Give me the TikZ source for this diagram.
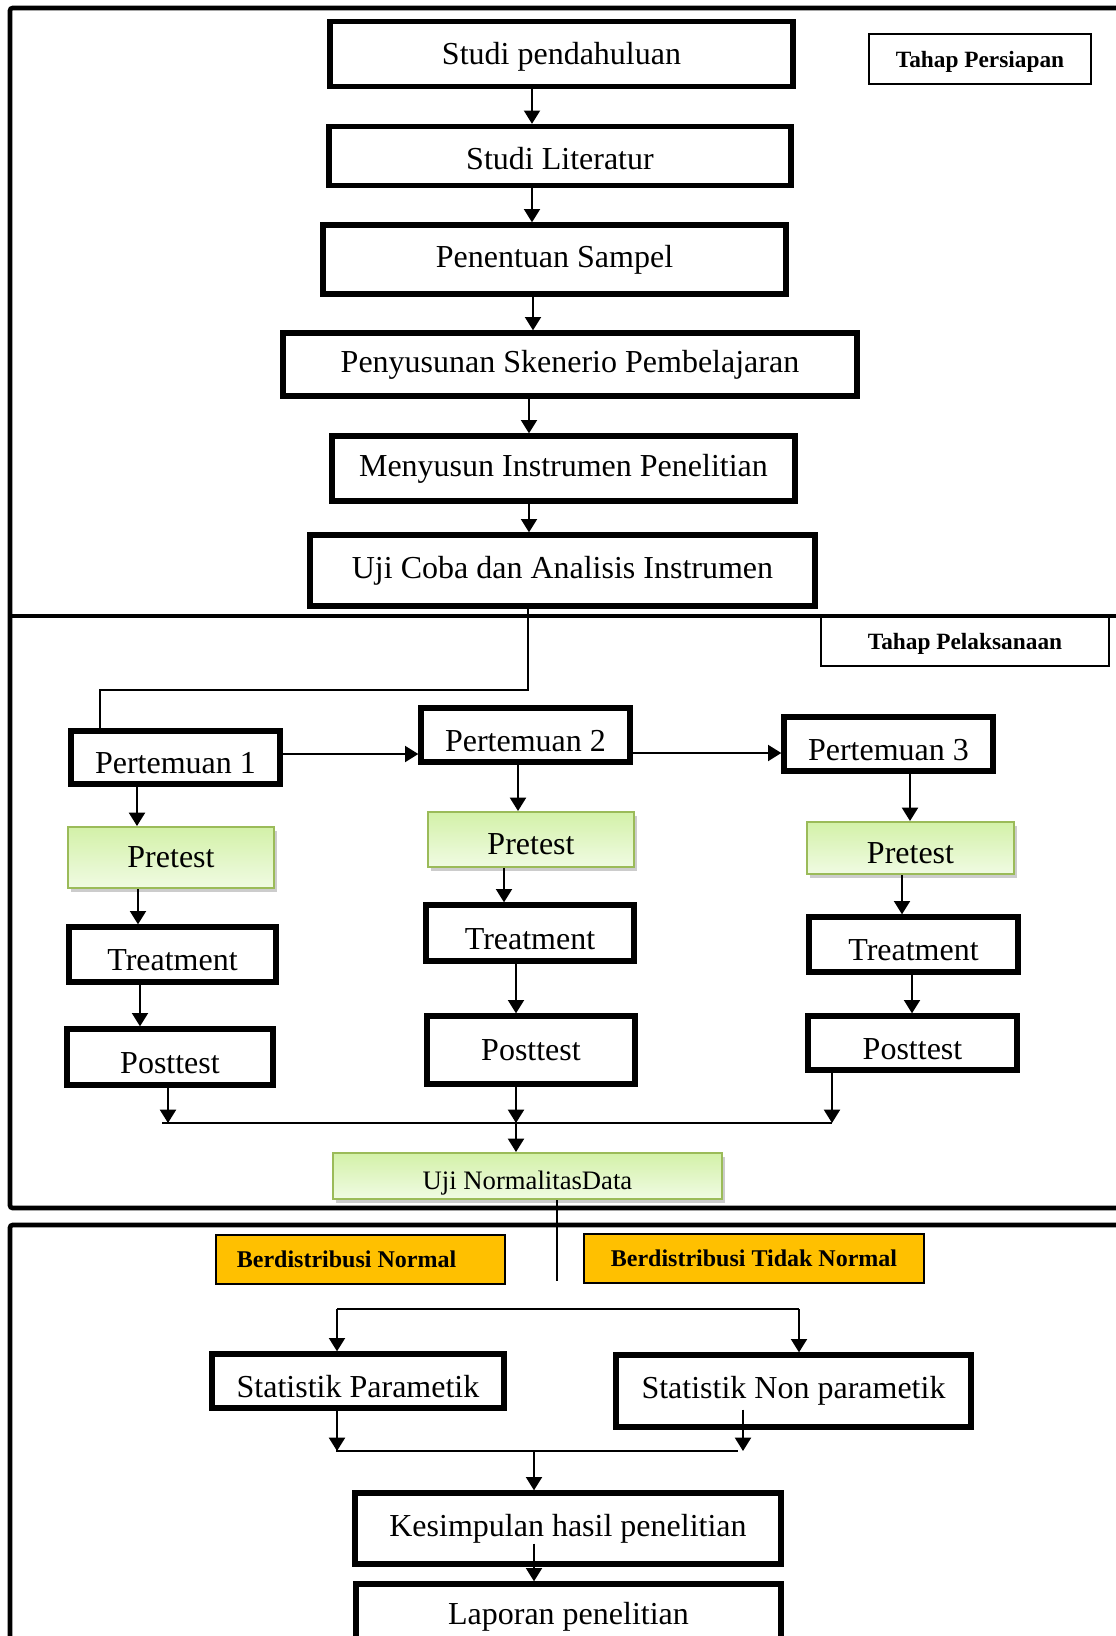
\documentclass[tikz,border=0pt]{standalone}
\usepackage{fontspec}
\setmainfont{Liberation Serif}
\usetikzlibrary{arrows.meta,shadows,calc}

\definecolor{grtop}{HTML}{D3F1A8}
\definecolor{grbot}{HTML}{F0FBE3}
\definecolor{grline}{HTML}{9BBB59}
\definecolor{oranj}{HTML}{FFC000}

\begin{document}
\begin{tikzpicture}[x=0.75pt,y=-0.75pt,
    sz/.style 2 args={minimum width=#1*0.75pt,minimum height=#2*0.75pt},
    box/.style={draw,line width=4pt,inner sep=0pt,font=\fontsize{24}{28}\selectfont},
    greenbox/.style={draw=grline,line width=1.5pt,top color=grtop,bottom color=grbot,
      drop shadow={opacity=0.4,shadow xshift=2pt,shadow yshift=-3pt},
      inner sep=0pt,font=\fontsize{24}{28}\selectfont},
    low/.style={text height=#1,text depth=0pt},
    low/.default=24pt,
    tahap/.style={draw,line width=0.8pt,inner sep=0pt,font=\fontsize{17.5}{20}\selectfont\bfseries},
    dist/.style={draw,fill=oranj,line width=0.8pt,inner sep=0pt,font=\fontsize{18}{20}\selectfont\bfseries},
    arr/.style={line width=1.5pt,-{Triangle[length=10pt,width=12pt]}},
    ln/.style={line width=1.5pt},
    frame/.style={line width=3.5pt,rounded corners=2pt}]
  \useasboundingbox (0,0) rectangle (1116,1636);

  % bingkai tahap
  \draw[frame] (1116,8) -- (10,8) -- (10,1208) -- (1116,1208);
  \draw[line width=3.5pt] (10,616) -- (1116,616);
  \draw[frame] (10,1640) -- (10,1225) -- (1116,1225);

  % tahap persiapan
  \node[tahap,sz={222}{50},low=12.5pt] (tp) at (980,59) {Tahap Persiapan};
  \node[box,sz={463}{65},low=15.5pt] (s1) at (561.5,54) {Studi pendahuluan};
  \node[box,sz={462}{59},low=20.8pt] (s2) at (560,156) {Studi Literatur};
  \node[box,sz={463}{69}] (s3) at (554.5,259.5) {Penentuan Sampel};
  \node[box,sz={574}{63}] (s4) at (570,364.5) {Penyusunan Skenerio Pembelajaran};
  \node[box,sz={463}{65}] (s5) at (563.5,468.5) {Menyusun Instrumen Penelitian};
  \node[box,sz={505}{71}] (s6) at (562.5,570.5) {Uji Coba dan Analisis Instrumen};

  \draw[arr] (s1.south -| 532,0) -- (s2.north -| 532,0);
  \draw[arr] (s2.south -| 532,0) -- (s3.north -| 532,0);
  \draw[arr] (s3.south -| 533,0) -- (s4.north -| 533,0);
  \draw[arr] (s4.south -| 529,0) -- (s5.north -| 529,0);
  \draw[arr] (s5.south -| 529,0) -- (s6.north -| 529,0);

  % tahap pelaksanaan
  \node[tahap,sz={288}{50},low=12.5pt] (tl) at (965,641) {Tahap Pelaksanaan};
  \node[box,sz={209}{53},low] (p1) at (175.5,757.5) {Pertemuan 1};
  \node[box,sz={209}{54},low] (p2) at (525.5,735) {Pertemuan 2};
  \node[box,sz={209}{54},low] (p3) at (888.5,744) {Pertemuan 3};
  \node[greenbox,sz={206}{61}] (pre1) at (171,857.5) {Pretest};
  \node[greenbox,sz={206}{55},low=22.5pt] (pre2) at (531,839.5) {Pretest};
  \node[greenbox,sz={207}{52},low=22.5pt] (pre3) at (910.5,848) {Pretest};
  \node[box,sz={207}{55},low] (tr1) at (172.5,954.5) {Treatment};
  \node[box,sz={208}{56},low] (tr2) at (530,933) {Treatment};
  \node[box,sz={209}{55},low] (tr3) at (913.5,944.5) {Treatment};
  \node[box,sz={206}{56},low] (po1) at (170,1057) {Posttest};
  \node[box,sz={208}{68}] (po2) at (531,1050) {Posttest};
  \node[box,sz={209}{54},low] (po3) at (912.5,1043) {Posttest};
  \node[greenbox,sz={389}{46},low=20pt,font=\fontsize{20}{24}\selectfont] (un) at (527.5,1176) {Uji NormalitasData};

  \draw[ln] (s6.south -| 528,0) -- (528,690) -- (100,690) -- (p1.north -| 100,0);
  \draw[arr] (p1.east |- 0,754) -- (p2.west |- 0,754);
  \draw[arr] (p2.east |- 0,753) -- (p3.west |- 0,753);

  \draw[arr] (p1.south -| 137,0) -- (pre1.north -| 137,0);
  \draw[arr] (pre1.south -| 138,0) -- (tr1.north -| 138,0);
  \draw[arr] (tr1.south -| 140,0) -- (po1.north -| 140,0);
  \draw[arr] (p2.south -| 518,0) -- (pre2.north -| 518,0);
  \draw[arr] (pre2.south -| 504,0) -- (tr2.north -| 504,0);
  \draw[arr] (tr2.south -| 516,0) -- (po2.north -| 516,0);
  \draw[arr] (p3.south -| 910,0) -- (pre3.north -| 910,0);
  \draw[arr] (pre3.south -| 902,0) -- (tr3.north -| 902,0);
  \draw[arr] (tr3.south -| 912,0) -- (po3.north -| 912,0);

  \coordinate (kiri) at (162,1123);
  \coordinate (tengah) at (516,1123);
  \coordinate (kanan) at (832,1123);
  \draw[ln] (kiri) -- (kanan);
  \draw[arr] (po1.south -| 168,0) -- (kiri -| 168,0);
  \draw[arr] (po2.south -| 516,0) -- (tengah);
  \draw[arr] (po3.south -| 832,0) -- (kanan);
  \draw[arr] (tengah) -- (un.north -| 516,0);

  % tahap analisis
  \coordinate (pisah) at (557,1281);
  \draw[ln] (un.south -| 557,0) -- (pisah);
  \node[dist,sz={289}{49}] (bn) at (360.5,1259.5) {Berdistribusi Normal\hspace*{21pt}};
  \node[dist,sz={340}{49}] (bt) at (754,1258.5) {Berdistribusi Tidak Normal};
  \node[box,sz={292}{54},low] (sp) at (358,1381) {Statistik Parametik};
  \node[box,sz={355}{72}] (snp) at (793.5,1391) {Statistik Non parametik};
  \node[box,sz={426}{71}] (ks) at (568,1528.5) {Kesimpulan hasil penelitian};
  \node[box,sz={425}{66}] (lp) at (568.5,1617) {Laporan penelitian};

  \coordinate (cabang1) at (337,1309);
  \coordinate (cabang2) at (799,1309);
  \draw[ln] (cabang1) -- (cabang2);
  \draw[arr] (cabang1) -- (sp.north -| cabang1);
  \draw[arr] (cabang2) -- (snp.north -| cabang2);

  \coordinate (gabung1) at (336,1451);
  \coordinate (gabung2) at (738,1451);
  \draw[ln] (gabung1) -- (gabung2);
  \draw[arr] (sp.south -| 337,0) -- (337,1451);
  \draw[arr] ($(snp.south -| 743,0)+(0,-20)$) -- (743,1451);
  \draw[arr] (534,1451) -- (ks.north -| 534,0);
  \draw[arr] ($(ks.south -| 534,0)+(0,-23)$) -- (lp.north -| 534,0);
\end{tikzpicture}
\end{document}
